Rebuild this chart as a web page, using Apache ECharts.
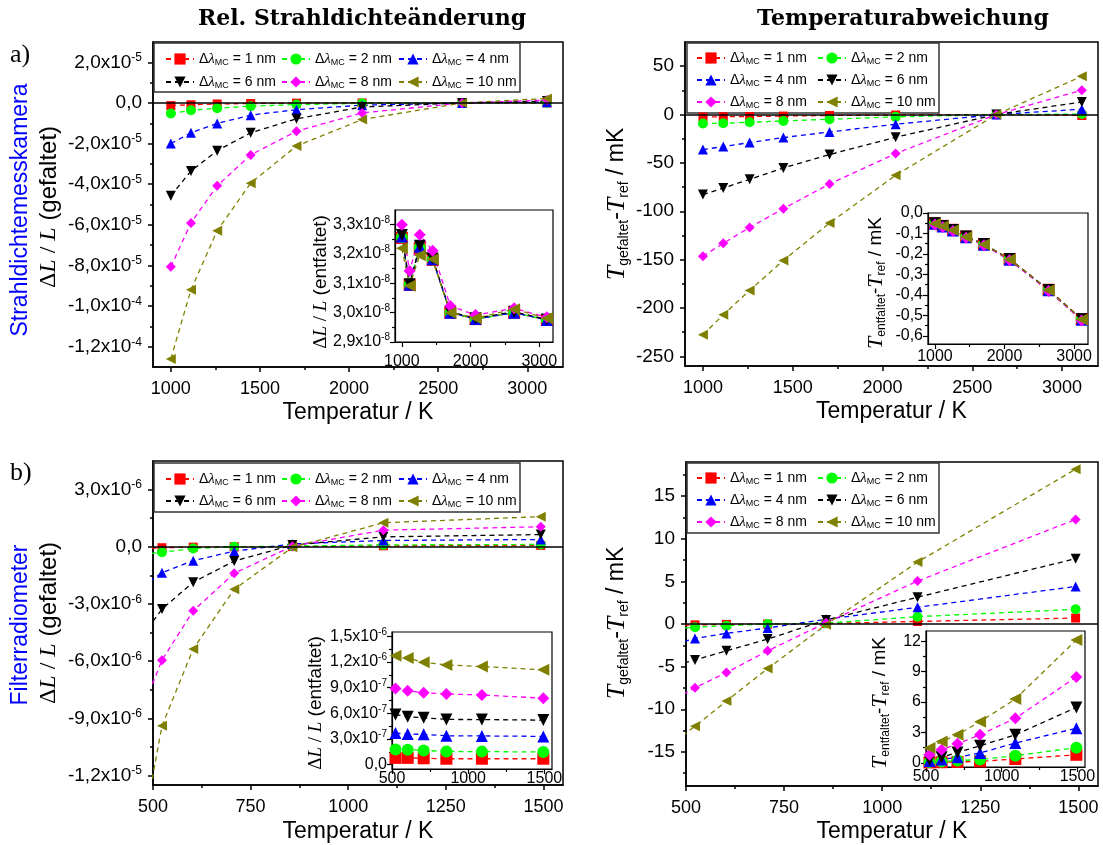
<!DOCTYPE html>
<html>
<head>
<meta charset="utf-8">
<script src="https://cdn.jsdelivr.net/npm/echarts@6/dist/echarts.min.js"></script>
<style>
html, body { margin: 0; padding: 0; background: #fff; }
#chart { width: 1103px; height: 845px; }
</style>
</head>
<body>
<div id="chart"></div>
<script>
// ---- data ----
const seriesNames = ['1 nm', '2 nm', '4 nm', '6 nm', '8 nm', '10 nm'];

const tempsA = [1000, 1113, 1260, 1448, 1705, 2073, 2634, 3110];
const tempsBMain = [473, 523, 603, 708, 857, 1090, 1493];
const tempsB = [523, 603, 708, 857, 1090, 1493];

// a) Strahldichtemesskamera, dL/L gefaltet
const relA = [
    [-1.3e-6, -0.9e-6, -0.5e-6, -0.3e-6, -0.1e-6, 0, 0, 0.05e-6],
    [-5.2e-6, -3.6e-6, -2.6e-6, -1.6e-6, -0.8e-6, -0.2e-6, 0, 0.1e-6],
    [-2.0e-5, -1.47e-5, -1.01e-5, -6.0e-6, -3.3e-6, -1.1e-6, 0, 0.4e-6],
    [-4.57e-5, -3.35e-5, -2.35e-5, -1.47e-5, -7.8e-6, -2.0e-6, 0, 0.9e-6],
    [-8.07e-5, -5.91e-5, -4.08e-5, -2.56e-5, -1.39e-5, -4.9e-6, 0, 1.4e-6],
    [-1.26e-4, -9.2e-5, -6.29e-5, -3.95e-5, -2.12e-5, -8.2e-6, 0, 2.2e-6]
];
// a) inset, dL/L entfaltet
const relAInset = [
    [3.255e-8, 3.095e-8, 3.220e-8, 3.180e-8, 3.000e-8, 2.978e-8, 3.000e-8, 2.975e-8],
    [3.257e-8, 3.097e-8, 3.222e-8, 3.181e-8, 3.000e-8, 2.978e-8, 3.000e-8, 2.975e-8],
    [3.260e-8, 3.095e-8, 3.225e-8, 3.182e-8, 3.000e-8, 2.978e-8, 3.000e-8, 2.975e-8],
    [3.265e-8, 3.097e-8, 3.228e-8, 3.185e-8, 3.003e-8, 2.981e-8, 3.003e-8, 2.977e-8],
    [3.300e-8, 3.142e-8, 3.266e-8, 3.211e-8, 3.023e-8, 2.992e-8, 3.015e-8, 2.984e-8],
    [3.220e-8, 3.092e-8, 3.196e-8, 3.182e-8, 3.000e-8, 2.981e-8, 3.012e-8, 2.981e-8]
];
// a) Temperaturabweichung gefaltet, mK
const tempA = [
    [-2.5, -2.3, -2.0, -1.6, -1.0, -0.5, 0, -1.0],
    [-9.3, -9.0, -8.0, -6.6, -4.9, -2.4, 0, 0.5],
    [-36.2, -33.1, -29.0, -23.8, -18.0, -10.0, 0, 5.5],
    [-82.8, -76.0, -67.0, -55.2, -41.4, -23.5, 0, 13.0],
    [-146.4, -133.2, -116.7, -97.3, -71.8, -40.4, 0, 25.2],
    [-227.7, -207.0, -181.9, -150.8, -112.2, -62.8, 0, 39.6]
];
// a) inset, entfaltet, mK
const tempAInset = [
    [-0.050, -0.063, -0.082, -0.115, -0.152, -0.225, -0.375, -0.518],
    [-0.051, -0.064, -0.083, -0.116, -0.153, -0.226, -0.376, -0.519],
    [-0.053, -0.066, -0.085, -0.118, -0.155, -0.228, -0.378, -0.522],
    [-0.050, -0.064, -0.083, -0.115, -0.152, -0.225, -0.376, -0.519],
    [-0.056, -0.069, -0.088, -0.121, -0.158, -0.231, -0.381, -0.525],
    [-0.052, -0.065, -0.084, -0.117, -0.154, -0.227, -0.377, -0.520]
];
// b) Filterradiometer, dL/L gefaltet
const relB = [
    [-0.1e-6, -0.05e-6, -0.02e-6, 0.0, 0.01e-6, 0.05e-6, 0.07e-6],
    [-0.4e-6, -0.29e-6, -0.09e-6, 0.0, 0.03e-6, 0.1e-6, 0.12e-6],
    [-2.1e-6, -1.36e-6, -0.73e-6, -0.23e-6, 0.15e-6, 0.33e-6, 0.38e-6],
    [-4.66e-6, -3.27e-6, -1.86e-6, -0.75e-6, 0.09e-6, 0.52e-6, 0.64e-6],
    [-8.51e-6, -5.95e-6, -3.36e-6, -1.39e-6, 0.03e-6, 0.87e-6, 1.05e-6],
    [-1.497e-5, -9.39e-6, -5.36e-6, -2.23e-6, -0.03e-6, 1.26e-6, 1.58e-6]
];
const relBInset = [
    [0.080e-6, 0.080e-6, 0.075e-6, 0.070e-6, 0.070e-6, 0.070e-6],
    [0.178e-6, 0.176e-6, 0.167e-6, 0.155e-6, 0.153e-6, 0.149e-6],
    [0.369e-6, 0.358e-6, 0.355e-6, 0.338e-6, 0.336e-6, 0.331e-6],
    [0.586e-6, 0.560e-6, 0.549e-6, 0.529e-6, 0.527e-6, 0.521e-6],
    [0.891e-6, 0.864e-6, 0.841e-6, 0.826e-6, 0.815e-6, 0.777e-6],
    [1.272e-6, 1.246e-6, 1.196e-6, 1.166e-6, 1.146e-6, 1.109e-6]
];
const tempB = [
    [-0.2, -0.1, -0.05, 0.0, 0.05, 0.3, 0.7],
    [-0.5, -0.39, -0.2, 0.0, 0.1, 0.86, 1.72],
    [-2.3, -1.69, -1.1, -0.47, 0.55, 1.96, 4.4],
    [-4.84, -4.21, -3.15, -1.77, 0.47, 3.14, 7.66],
    [-8.75, -7.47, -5.7, -3.15, 0.15, 5.03, 12.26],
    [-13.75, -11.99, -9.04, -5.23, -0.08, 7.26, 18.16]
];
const tempBInset = [
    [0.05, 0.07, 0.1, 0.15, 0.39, 0.8],
    [0.1, 0.15, 0.23, 0.33, 0.72, 1.5],
    [0.2, 0.35, 0.55, 0.98, 1.96, 3.42],
    [0.3, 0.55, 1.04, 1.69, 2.77, 5.47],
    [0.81, 1.3, 1.89, 2.77, 4.4, 8.47],
    [1.47, 2.11, 2.77, 4.07, 6.29, 12.12]
];

// ---- tick values ----
const xTicksA = [1000, 1500, 2000, 2500, 3000];
const xMinorA = [1250, 1750, 2250, 2750];
const xTicksB = [500, 750, 1000, 1250, 1500];
const xMinorB = [625, 875, 1125, 1375];
const xTicksInsetA = [1000, 2000, 3000];
const xMinorInsetA = [1500, 2500];
const xTicksInsetB = [500, 1000, 1500];
const xMinorInsetB = [750, 1250];
const yTicksRelA = [2e-5, 0, -2e-5, -4e-5, -6e-5, -8e-5, -1e-4, -1.2e-4];
const yMinorRelA = [1e-5, -1e-5, -3e-5, -5e-5, -7e-5, -9e-5, -1.1e-4];
const yTicksRelAInset = [2.9e-8, 3.0e-8, 3.1e-8, 3.2e-8, 3.3e-8];
const yMinorRelAInset = [2.95e-8, 3.05e-8, 3.15e-8, 3.25e-8];
const yTicksTempA = [50, 0, -50, -100, -150, -200, -250];
const yMinorTempA = [25, -25, -75, -125, -175, -225];
const yTicksTempAInset = [0, -0.1, -0.2, -0.3, -0.4, -0.5, -0.6];
const yMinorTempAInset = [-0.05, -0.15, -0.25, -0.35, -0.45, -0.55];
const yTicksRelB = [3e-6, 0, -3e-6, -6e-6, -9e-6, -1.2e-5];
const yMinorRelB = [1.5e-6, -1.5e-6, -4.5e-6, -7.5e-6, -1.05e-5];
const yTicksRelBInset = [0, 3e-7, 6e-7, 9e-7, 1.2e-6, 1.5e-6];
const yMinorRelBInset = [1.5e-7, 4.5e-7, 7.5e-7, 1.05e-6, 1.35e-6];
const yTicksTempB = [15, 10, 5, 0, -5, -10, -15];
const yMinorTempB = [17.5, 12.5, 7.5, 2.5, -2.5, -7.5, -12.5, -17.5];
const yTicksTempBInset = [0, 3, 6, 9, 12];
const yMinorTempBInset = [1.5, 4.5, 7.5, 10.5];

// ---- styling ----
const SANS = '"Liberation Sans", Arial, sans-serif';
const SERIF = '"Liberation Serif", "Times New Roman", serif';
const colors = ['#ff0000', '#00ff00', '#0000ff', '#000000', '#ff00ff', '#808000'];
const symbols = ['rect', 'circle', 'triangle', 'triangle', 'diamond', 'triangle'];
const rotations = [0, 0, 0, 180, 0, 90];

function sciLabel(v) {
    if (Math.abs(v) < 1e-20) return '0,0';
    const e = Math.floor(Math.log10(Math.abs(v)) + 1e-9);
    const m = (v / Math.pow(10, e)).toFixed(1).replace('.', ',');
    return m + 'x10{sup|' + e + '}';
}
function decLabel(v) {
    return v.toFixed(1).replace('.', ',');
}
function intLabel(v) {
    return String(Math.round(v));
}

const panels = [
    // main panels
    {box: [153, 42, 410, 325], x: [900, 3200], y: [-1.3e-4, 3e-5], temps: tempsA, vals: relA,
     xt: xTicksA, xm: xMinorA, yt: yTicksRelA, ym: yMinorRelA, fmt: sciLabel, inset: false, xName: 'Temperatur / K', xNameGap: 34},
    {box: [685, 42, 413, 324], x: [900, 3200], y: [-260, 75], temps: tempsA, vals: tempA,
     xt: xTicksA, xm: xMinorA, yt: yTicksTempA, ym: yMinorTempA, fmt: intLabel, inset: false, xName: 'Temperatur / K', xNameGap: 34},
    {box: [153, 461, 410, 324], x: [500, 1550], y: [-1.25e-5, 4.5e-6], temps: tempsBMain, vals: relB,
     xt: xTicksB, xm: xMinorB, yt: yTicksRelB, ym: yMinorRelB, fmt: sciLabel, inset: false, xName: 'Temperatur / K', xNameGap: 35},
    {box: [686, 462, 412, 324], x: [500, 1550], y: [-19, 19], temps: tempsBMain, vals: tempB,
     xt: xTicksB, xm: xMinorB, yt: yTicksTempB, ym: yMinorTempB, fmt: intLabel, inset: false, xName: 'Temperatur / K', xNameGap: 34},
    // insets
    {box: [395, 210, 158, 132], x: [900, 3200], y: [2.9e-8, 3.35e-8], temps: tempsA, vals: relAInset,
     xt: xTicksInsetA, xm: xMinorInsetA, yt: yTicksRelAInset, ym: yMinorRelAInset, fmt: sciLabel, inset: true, xMargin: 12},
    {box: [928, 213, 160, 131], x: [900, 3200], y: [-0.64, 0], temps: tempsA, vals: tempAInset,
     xt: xTicksInsetA, xm: xMinorInsetA, yt: yTicksTempAInset, ym: yMinorTempAInset, fmt: decLabel, inset: true, xMargin: 5},
    {box: [392, 632, 160, 137], x: [500, 1550], y: [-0.05e-6, 1.55e-6], temps: tempsB, vals: relBInset,
     xt: xTicksInsetB, xm: xMinorInsetB, yt: yTicksRelBInset, ym: yMinorRelBInset, fmt: sciLabel, inset: true, xMargin: 2},
    {box: [926, 631, 159, 136], x: [500, 1550], y: [-0.4, 13], temps: tempsB, vals: tempBInset,
     xt: xTicksInsetB, xm: xMinorInsetB, yt: yTicksTempBInset, ym: yMinorTempBInset, fmt: intLabel, inset: true, xMargin: 2}
];

const grids = [], xAxes = [], yAxes = [], series = [];

panels.forEach(function (p, g) {
    const lw = p.inset ? 1.2 : 1.5;
    const fs = p.inset ? 16 : 19;
    grids.push({
        left: p.box[0], top: p.box[1], width: p.box[2], height: p.box[3],
        show: true, borderColor: '#000', borderWidth: lw,
        backgroundColor: p.inset ? '#fff' : 'transparent',
        containLabel: false, outerBoundsMode: 'none'
    });
    const labelRich = {sup: {fontSize: p.inset ? 10 : 12, fontFamily: SANS, color: '#000', padding: [0, 0, 9, 0]}};
    xAxes.push({
        type: 'value', gridIndex: g, min: p.x[0], max: p.x[1], position: 'bottom',
        axisLine: {show: true, onZero: false, lineStyle: {color: '#000', width: lw}},
        axisTick: {show: true, inside: false, length: 5, customValues: p.xt, lineStyle: {color: '#000', width: lw}},
        axisLabel: {show: true, customValues: p.xt, margin: p.inset ? p.xMargin : 13, fontSize: p.inset ? 16 : 18,
                    fontFamily: SANS, color: '#000', formatter: intLabel},
        splitLine: {show: false},
        name: p.xName || '', nameLocation: 'middle', nameGap: p.xNameGap || 0,
        nameTextStyle: {fontSize: 23, fontFamily: SANS, color: '#000'}
    });
    yAxes.push({
        type: 'value', gridIndex: g, min: p.y[0], max: p.y[1], position: 'left',
        axisLine: {show: true, onZero: false, lineStyle: {color: '#000', width: lw}},
        axisTick: {show: true, inside: false, length: 5, customValues: p.yt, lineStyle: {color: '#000', width: lw}},
        axisLabel: {show: true, customValues: p.yt, margin: p.inset ? 5 : 11, fontSize: fs,
                    fontFamily: SANS, color: '#000', formatter: p.fmt, rich: labelRich},
        splitLine: {show: false}
    });
    p.vals.forEach(function (vals, s) {
        const item = {
            type: 'line', name: seriesNames[s], xAxisIndex: g, yAxisIndex: g,
            data: p.temps.map(function (t, i) { return [t, vals[i]]; }),
            symbol: symbols[s], symbolRotate: rotations[s],
            symbolSize: p.inset ? 12 : (symbols[s] === 'rect' ? 9 : 10),
            showAllSymbol: true, clip: true, animation: false,
            lineStyle: {color: colors[s], width: 1.3, type: [5, 4]},
            itemStyle: {color: colors[s]},
            emphasis: {disabled: true}
        };
        if (!p.inset && s === 0) {
            item.markLine = {
                silent: true, symbol: ['none', 'none'], label: {show: false}, animation: false,
                lineStyle: {color: '#000', width: 1.5, type: 'solid'},
                data: [{yAxis: 0}]
            };
        }
        series.push(item);
    });
});

// minor tick axes, drawn after the main ones
panels.forEach(function (p, g) {
    const lw = p.inset ? 1.2 : 1.5;
    xAxes.push({
        type: 'value', gridIndex: g, min: p.x[0], max: p.x[1], position: 'bottom',
        axisLine: {show: false, onZero: false}, axisLabel: {show: false},
        axisTick: {show: true, inside: false, length: 3, customValues: p.xm, lineStyle: {color: '#000', width: lw}},
        splitLine: {show: false}
    });
    yAxes.push({
        type: 'value', gridIndex: g, min: p.y[0], max: p.y[1], position: 'left',
        axisLine: {show: false, onZero: false}, axisLabel: {show: false},
        axisTick: {show: true, inside: false, length: 3, customValues: p.ym, lineStyle: {color: '#000', width: lw}},
        splitLine: {show: false}
    });
});

// ---- legends ----
const legendRich = {
    g: {fontFamily: SANS, fontSize: 14, color: '#000', lineHeight: 20},
    l: {fontFamily: SERIF, fontStyle: 'italic', fontSize: 15, color: '#000', lineHeight: 20},
    s: {fontFamily: SANS, fontSize: 9, color: '#000', padding: [8, 0, 0, 0], lineHeight: 20}
};
function legendCol(left, top, names, gap) {
    return {
        orient: 'vertical', left: left, top: top, data: names, padding: 0,
        itemWidth: 28, itemHeight: 14, itemGap: gap, selectedMode: false, z: 5,
        formatter: function (n) { return '{g|Δ}{l|λ}{s|MC}{g| = ' + n + '}'; },
        textStyle: {fontFamily: SANS, fontSize: 14, color: '#000', lineHeight: 20, rich: legendRich}
    };
}
const legends = [
    legendCol(165, 49, ['1 nm', '6 nm'], 3),
    legendCol(281, 49, ['2 nm', '8 nm'], 3),
    legendCol(398, 49, ['4 nm', '10 nm'], 3),
    legendCol(696, 48, ['1 nm', '4 nm', '8 nm'], 2),
    legendCol(817, 48, ['2 nm', '6 nm', '10 nm'], 2),
    legendCol(165, 469, ['1 nm', '6 nm'], 2),
    legendCol(281, 469, ['2 nm', '8 nm'], 2),
    legendCol(398, 469, ['4 nm', '10 nm'], 2),
    legendCol(696, 468, ['1 nm', '4 nm', '8 nm'], 2),
    legendCol(817, 468, ['2 nm', '6 nm', '10 nm'], 2)
];

// ---- free text ----
function boxRect(x, y, w, h) {
    return {type: 'rect', z: 3, shape: {x: x, y: y, width: w, height: h},
            style: {fill: '#fff', stroke: '#333', lineWidth: 1.5}};
}
function vText(x, y, text, rich, fill) {
    return {type: 'text', x: x, y: y, rotation: Math.PI / 2, z: 5,
            style: {text: text, rich: rich, fill: fill || '#000', align: 'center', verticalAlign: 'middle',
                    font: '23px ' + SANS}};
}
const richRel = function (size) {
    return {
        a: {fontFamily: SERIF, fontSize: size, color: '#000', verticalAlign: 'middle'},
        b: {fontFamily: SERIF, fontStyle: 'italic', fontSize: size, color: '#000', verticalAlign: 'middle'},
        d: {fontFamily: SANS, fontSize: size, color: '#000', verticalAlign: 'middle'}
    };
};
const richTemp = function (tSize, sSize, mSize, drop) {
    return {
        t: {fontFamily: SERIF, fontStyle: 'italic', fontSize: tSize, color: '#000', verticalAlign: 'middle'},
        s: {fontFamily: SANS, fontSize: sSize, color: '#000', verticalAlign: 'middle', padding: [drop, 0, 0, 0]},
        m: {fontFamily: SANS, fontSize: mSize, color: '#000', verticalAlign: 'middle'}
    };
};
const relName = '{a|Δ}{b|L}{a| / }{b|L}{d| (gefaltet)}';
const relNameInset = '{a|Δ}{b|L}{a| / }{b|L}{d| (entfaltet)}';
const tempName = '{t|T}{s|gefaltet}{m|-}{t|T}{s|ref}{m| / mK}';
const tempNameInset = '{t|T}{s|entfaltet}{m|-}{t|T}{s|ref}{m| / mK}';

const graphics = [
    {type: 'text', x: 362, y: 19, style: {text: 'Rel. Strahldichteänderung', font: 'bold 22px "DejaVu Serif"', fill: '#000', align: 'center', verticalAlign: 'middle'}},
    {type: 'text', x: 903, y: 19, style: {text: 'Temperaturabweichung', font: 'bold 22px "DejaVu Serif"', fill: '#000', align: 'center', verticalAlign: 'middle'}},
    {type: 'text', x: 10, y: 55, style: {text: 'a)', font: '26px ' + SERIF, fill: '#000', align: 'left', verticalAlign: 'middle'}},
    {type: 'text', x: 10, y: 473, style: {text: 'b)', font: '26px ' + SERIF, fill: '#000', align: 'left', verticalAlign: 'middle'}},
    vText(21, 210, 'Strahldichtemesskamera', null, '#0000ff'),
    vText(21, 625, 'Filterradiometer', null, '#0000ff'),
    vText(49, 207, relName, richRel(24)),
    vText(49, 623, relName, richRel(24)),
    vText(617, 204, tempName, richTemp(26, 14, 23, 14)),
    vText(617, 623, tempName, richTemp(26, 14, 23, 14)),
    vText(321, 282, relNameInset, richRel(19)),
    vText(316, 703, relNameInset, richRel(19)),
    vText(876, 283, tempNameInset, richTemp(22, 12, 19, 11)),
    vText(880, 703, tempNameInset, richTemp(22, 12, 19, 11)),
    boxRect(154, 43, 366, 49),
    boxRect(687, 43, 252, 70),
    boxRect(154, 463, 366, 49),
    boxRect(687, 463, 252, 70)
];

const myChart = echarts.init(document.getElementById('chart'));
myChart.setOption({
    animation: false,
    backgroundColor: '#fff',
    grid: grids,
    xAxis: xAxes,
    yAxis: yAxes,
    legend: legends,
    graphic: graphics,
    series: series
});
</script>
</body>
</html>
